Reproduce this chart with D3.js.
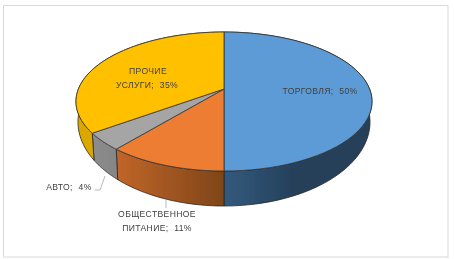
<!DOCTYPE html>
<html>
<head>
<meta charset="utf-8">
<script src="https://cdn.jsdelivr.net/npm/d3@7"></script>
<style>
html, body { margin: 0; padding: 0; background: #fff; overflow: hidden; }
svg { display: block; }
text { font-family: "Liberation Sans", sans-serif; font-size: 8.6px; fill: #404040; letter-spacing: 0.35px; word-spacing: 3px; }
</style>
</head>
<body>
<script>
// chart data
var categories = ["ТОРГОВЛЯ", "ОБЩЕСТВЕННОЕ ПИТАНИЕ", "АВТО", "ПРОЧИЕ УСЛУГИ"];
var shares = [50, 11, 4, 35];
var topColors = ["#5b9bd5", "#ed7d31", "#a5a5a5", "#ffc000"];
var wallLeft = ["#335a7d", "#c0652a", "#8c8c8c", "#dca800"];
var wallRight = ["#25405a", "#7f4518", "#858585", "#d8a500"];

var width = 454,
	height = 259;

var svg = d3.select("body").append("svg")
	.attr("width", width)
	.attr("height", height);

var defs = svg.append("defs");
defs.append("filter").attr("id", "soft")
	.append("feGaussianBlur").attr("stdDeviation", 0.28);

// frame around the chart
svg.append("rect")
	.attr("x", 3.5).attr("y", 5.5)
	.attr("width", 444.5).attr("height", 251.5)
	.attr("fill", "#fff")
	.attr("stroke", "#d9d9d9")
	.attr("stroke-width", 1);

// tilted disc: unit circle -> screen, circle centre lands higher than ellipse centre
var cx = 224, cy = 89, sx = 145.6, sy = 67.25, k = -0.18;
// lower rim is a wider-open ellipse than the top one (perspective)
var topMid = 101.5, lowMid = 122, stretchY = 84 / 69.5, stretchX = 146 / 148;

function project(a) {
	var u = Math.sin(a), v = -Math.cos(a), w = 1 + k * v;
	return [cx + sx * u / w, cy + sy * v / w];
}
function lower(p) {
	return [cx + (p[0] - cx) * stretchX, lowMid + (p[1] - topMid) * stretchY];
}
function arcPoints(a0, a1) {
	return d3.range(0, 61).map(function(i) {
		return project(a0 + (a1 - a0) * i / 60);
	});
}

var pie = d3.pie().sort(null);
var slices = pie(shares);
var line = d3.line();
var chart = svg.append("g").attr("filter", "url(#soft)");

// outer walls first, the tops cover the back part
slices.forEach(function(d, i) {
	var top = arcPoints(d.startAngle, d.endAngle);
	var low = top.map(lower).reverse();
	var xs = low.map(function(p) { return p[0]; });
	var grad = defs.append("linearGradient")
		.attr("id", "wall" + i)
		.attr("gradientUnits", "userSpaceOnUse")
		.attr("x1", i == 0 ? cx : d3.min(xs))
		.attr("x2", i == 0 ? cx + 70 : d3.max(xs))
		.attr("y1", 0).attr("y2", 0);
	grad.append("stop").attr("offset", 0).attr("stop-color", wallLeft[i]);
	grad.append("stop").attr("offset", 1).attr("stop-color", wallRight[i]);
	chart.append("path")
		.attr("d", line(top.concat(low)) + "Z")
		.attr("fill", "url(#wall" + i + ")")
		.attr("stroke", "#262626")
		.attr("stroke-width", 0.8)
		.attr("stroke-linejoin", "round");
});

slices.forEach(function(d, i) {
	var pts = [[cx, cy]].concat(arcPoints(d.startAngle, d.endAngle));
	chart.append("path")
		.attr("d", line(pts) + "Z")
		.attr("fill", topColors[i])
		.attr("stroke", "#333")
		.attr("stroke-width", 0.8)
		.attr("stroke-linejoin", "round");
});

// leader lines
var leaders = [
	[[95, 190], [100, 190], [105, 176]],
	[[166, 199], [166, 208]]
];
svg.selectAll(".leader").data(leaders).enter().append("path")
	.attr("class", "leader")
	.attr("d", function(d) { return line(d); })
	.attr("fill", "none")
	.attr("stroke", "#a6a6a6")
	.attr("stroke-width", 0.8);

// labels, one entry per line of text
var labelRows = [
	{ text: categories[0] + "; " + shares[0] + "%", x: 320, y: 94 },
	{ text: "ОБЩЕСТВЕННОЕ", x: 157, y: 216.5 },
	{ text: "ПИТАНИЕ; " + shares[1] + "%", x: 157, y: 230.5 },
	{ text: categories[2] + "; " + shares[2] + "%", x: 69, y: 190 },
	{ text: "ПРОЧИЕ", x: 148, y: 74 },
	{ text: "УСЛУГИ; " + shares[3] + "%", x: 147, y: 88 }
];
svg.append("g").attr("filter", "url(#soft)")
	.selectAll("text").data(labelRows).enter().append("text")
	.attr("x", function(d) { return d.x; })
	.attr("y", function(d) { return d.y; })
	.attr("text-anchor", "middle")
	.text(function(d) { return d.text; });
</script>
</body>
</html>
